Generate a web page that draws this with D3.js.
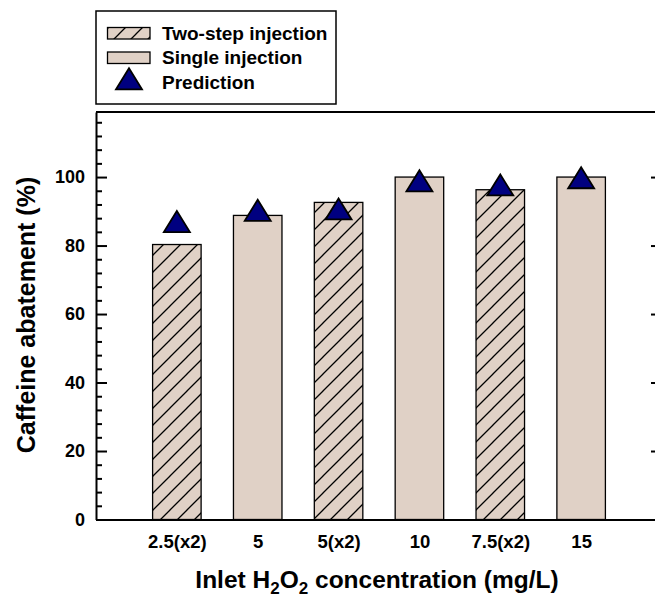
<!DOCTYPE html>
<html>
<head>
<meta charset="utf-8">
<script src="https://cdn.jsdelivr.net/npm/d3@7"></script>
<style>
  body { margin: 0; background: #fff; }
  svg { display: block; font-family: "Liberation Sans", Arial, sans-serif; font-weight: bold; }
</style>
</head>
<body>
<div id="chart"></div>
<script>
const categories = ['2.5(x2)', '5', '5(x2)', '10', '7.5(x2)', '15'];
const injection = ['two', 'single', 'two', 'single', 'two', 'single'];
const abatement = [80.3, 88.8, 92.6, 100.0, 96.3, 100.0];
const prediction = [87.0, 90.3, 90.7, 98.9, 97.7, 99.8];
const yMajorTicks = [0, 20, 40, 60, 80, 100];
const legendItems = [
  { label: 'Two-step injection', kind: 'two' },
  { label: 'Single injection', kind: 'single' },
  { label: 'Prediction', kind: 'pred' }
];

const width = 655, height = 598;
const barFill = '#e0d1c6';
const markerFill = '#000080';

const svg = d3.select('#chart').append('svg')
  .attr('width', width)
  .attr('height', height);

const defs = svg.append('defs');
const pat = defs.append('pattern')
  .attr('id', 'hatch')
  .attr('patternUnits', 'userSpaceOnUse')
  .attr('width', 17)
  .attr('height', 17);
pat.append('rect').attr('width', 17).attr('height', 17).attr('fill', barFill);
pat.append('path')
  .attr('d', 'M-2,19 L19,-2 M-4,4 L4,-4 M13,21 L21,13')
  .attr('stroke', '#000')
  .attr('stroke-width', 1.3);

const x = d3.scaleLinear().domain([0, 7]).range([96, 662]);
const y = d3.scaleLinear().domain([0, 119]).range([519.5, 112]);
const half = 0.3;

const data = categories.map((c, i) => ({
  cat: c, pos: i + 1, kind: injection[i], value: abatement[i], pred: prediction[i]
}));

// bars
svg.append('g').selectAll('rect')
  .data(data)
  .enter()
  .append('rect')
  .attr('x', d => x(d.pos - half))
  .attr('width', d => x(d.pos + half) - x(d.pos - half))
  .attr('y', d => y(d.value))
  .attr('height', d => y(0) - y(d.value))
  .attr('fill', d => d.kind === 'two' ? 'url(#hatch)' : barFill)
  .attr('stroke', '#000')
  .attr('stroke-width', 1.3);

// triangles
const tri = (cx, cy) => `M${cx},${cy - 10.5} L${cx + 13},${cy + 10.5} L${cx - 13},${cy + 10.5} Z`;
svg.append('g').selectAll('path')
  .data(data)
  .enter()
  .append('path')
  .attr('d', d => tri(x(d.pos), y(d.pred)))
  .attr('fill', markerFill)
  .attr('stroke', '#000')
  .attr('stroke-width', 1.8)
  .attr('stroke-linejoin', 'miter');

// axes
const minorTicks = d3.range(0, 119, 4).filter(v => v % 20 !== 0);

const yAxis = svg.append('g')
  .attr('transform', `translate(${x(0)},0)`)
  .call(d3.axisLeft(y).tickValues(yMajorTicks).tickSize(-11).tickSizeOuter(0).tickPadding(11));
svg.append('g')
  .attr('transform', `translate(${x(0)},0)`)
  .call(d3.axisLeft(y).tickValues(minorTicks).tickSize(-6).tickSizeOuter(0).tickFormat(''))
  .call(g => g.select('.domain').remove());

svg.append('g')
  .attr('transform', `translate(${x(7)},0)`)
  .call(d3.axisRight(y).tickValues(yMajorTicks).tickSize(-11).tickSizeOuter(0).tickFormat(''));
svg.append('g')
  .attr('transform', `translate(${x(7)},0)`)
  .call(d3.axisRight(y).tickValues(minorTicks).tickSize(-6).tickSizeOuter(0).tickFormat(''))
  .call(g => g.select('.domain').remove());

const xAxis = svg.append('g')
  .attr('transform', `translate(0,${y(0)})`)
  .call(d3.axisBottom(x).tickValues(data.map(d => d.pos)).tickFormat(v => categories[v - 1])
    .tickSize(0).tickSizeOuter(0).tickPadding(15));

svg.append('line')
  .attr('x1', x(0)).attr('x2', x(7))
  .attr('y1', y(119)).attr('y2', y(119))
  .attr('stroke', '#000').attr('stroke-width', 2);

svg.selectAll('.domain').attr('stroke-width', 2);
svg.selectAll('.tick line').attr('stroke-width', 2);
svg.selectAll('.tick text').attr('fill', '#000').attr('font-family', null);
yAxis.selectAll('.tick text').attr('font-size', 18);
xAxis.selectAll('.tick text').attr('font-size', 18.5);

// axis titles
svg.append('text')
  .attr('transform', 'translate(35,315) rotate(-90)')
  .attr('text-anchor', 'middle')
  .attr('font-size', 25)
  .text('Caffeine abatement (%)');

const xt = svg.append('text')
  .attr('x', 377)
  .attr('y', 588)
  .attr('text-anchor', 'middle')
  .attr('font-size', 24.5);
xt.append('tspan').text('Inlet H');
xt.append('tspan').attr('font-size', 17).attr('dy', 6).text('2');
xt.append('tspan').attr('dy', -6).text('O');
xt.append('tspan').attr('font-size', 17).attr('dy', 6).text('2');
xt.append('tspan').attr('dy', -6).text(' concentration (mg/L)');

// legend
const legend = svg.append('g');
legend.append('rect')
  .attr('x', 96).attr('y', 11)
  .attr('width', 240).attr('height', 93)
  .attr('fill', '#fff')
  .attr('stroke', '#000')
  .attr('stroke-width', 1.5);

const rows = legend.selectAll('g.item')
  .data(legendItems)
  .enter()
  .append('g')
  .attr('class', 'item')
  .attr('transform', (d, i) => `translate(0,${i * 24.5})`);

rows.filter(d => d.kind !== 'pred')
  .append('rect')
  .attr('x', 107.5).attr('y', 27.5)
  .attr('width', 42.5).attr('height', 11.5)
  .attr('fill', d => d.kind === 'two' ? 'url(#hatch)' : barFill)
  .attr('stroke', '#000')
  .attr('stroke-width', 1.3);

rows.filter(d => d.kind === 'pred')
  .append('path')
  .attr('d', tri(129, 29.8))
  .attr('fill', markerFill)
  .attr('stroke', '#000')
  .attr('stroke-width', 1.8);

rows.append('text')
  .attr('x', 162)
  .attr('y', 39.5)
  .attr('font-size', 19)
  .text(d => d.label);
</script>
</body>
</html>
